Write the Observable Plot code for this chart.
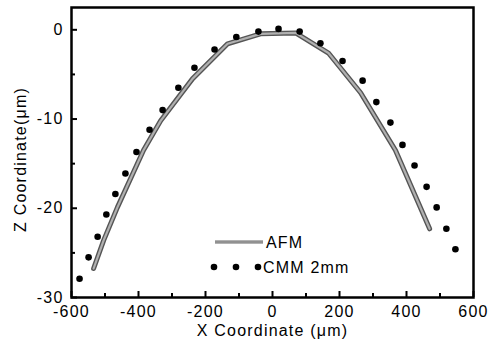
<!DOCTYPE html>
<html><head><meta charset="utf-8">
<script src="https://cdn.jsdelivr.net/npm/d3@7"></script>
<script src="https://cdn.jsdelivr.net/npm/@observablehq/plot@0.6"></script>
<style>
body{margin:0;background:#fff;}
#chart{position:relative;width:498px;height:343px;}
#legend{position:absolute;left:0;top:0;pointer-events:none;}
</style></head><body><div id="chart"></div>
<script>
// AFM profile (x in µm, z in µm)
const afmX = [-534, -504, -463, -385, -334, -239, -134, -36, 69, 167, 263, 367, 469];
const afmZ = [-26.75, -23.6, -19.9, -13.5, -10.2, -5.5, -1.57, -0.45, -0.35, -2.6, -7.05, -13.5, -22.3];
// CMM 2mm profile
const cmmX = [-576, -549, -522, -496, -469, -439, -406, -367, -328, -281, -233, -173, -108, -42, 18, 81, 143, 209, 269, 310, 352, 388, 424, 460, 490, 519, 546];
const cmmZ = [-27.9, -25.5, -23.2, -20.7, -18.4, -16.1, -13.7, -11.2, -9.0, -6.5, -4.25, -2.2, -0.8, -0.2, 0.1, -0.2, -1.5, -3.5, -5.7, -8.1, -10.4, -12.9, -15.2, -17.6, -19.9, -22.3, -24.6];
const seriesNames = ["AFM", "CMM 2mm"];
const xTicks = [-600, -400, -200, 0, 200, 400, 600];
const xMinor = [-500, -300, -100, 100, 300, 500];
const yTicks = [0, -10, -20, -30];
const yMinor = [-5, -15, -25];
const xLabel = "X Coordinate (μm)";
const yLabel = "Z Coordinate(μm)";

const afm = afmX.map((x, i) => ({x, z: afmZ[i]}));
const cmm = cmmX.map((x, i) => ({x, z: cmmZ[i]}));
const fmt = d => String(d);
const font = "'Liberation Sans', Arial, sans-serif";

const plot = Plot.plot({
  width: 498, height: 343,
  marginLeft: 71, marginRight: 25, marginTop: 7, marginBottom: 46,
  style: {fontFamily: font, fontSize: "16px", letterSpacing: "1.2px", color: "#000", background: "#fff"},
  x: {domain: [-600, 600]},
  y: {domain: [-30, 2.5]},
  marks: [
    Plot.axisX(xTicks, {tickSize: 0, tickPadding: 8, tickFormat: fmt, label: null, fontSize: 16}),
    Plot.axisX(xTicks, {tickSize: 6, text: null, label: null, strokeWidth: 2, dy: -6}),
    Plot.axisX(xMinor, {tickSize: 4, text: null, label: null, strokeWidth: 2, dy: -4}),
    Plot.axisY(yTicks, {tickSize: 0, tickPadding: 8, tickFormat: fmt, label: null, fontSize: 16}),
    Plot.axisY(yTicks, {tickSize: 6, text: null, label: null, strokeWidth: 2, dx: 6}),
    Plot.axisY(yMinor, {tickSize: 4, text: null, label: null, strokeWidth: 2, dx: 4}),
    Plot.line(afm, {x: "x", y: "z", stroke: "#555", strokeWidth: 5, strokeLinejoin: "round"}),
    Plot.line(afm, {x: "x", y: "z", stroke: "#b0b0b0", strokeWidth: 2.2, strokeLinejoin: "round"}),
    Plot.dot(cmm, {x: "x", y: "z", r: 3.3, fill: "#000", stroke: "none"}),
    Plot.frame({strokeWidth: 2.5}),
    Plot.text([xLabel], {frameAnchor: "bottom", textAnchor: "middle", dy: 33, lineAnchor: "middle", fontSize: 16}),
    Plot.text([yLabel], {frameAnchor: "left", textAnchor: "middle", dx: -51, dy: 7, rotate: -90, lineAnchor: "middle", fontSize: 16})
  ]
});
document.getElementById("chart").appendChild(plot);

// legend overlay
const svg = d3.select("#chart").append("svg").attr("id", "legend")
  .attr("width", 498).attr("height", 343);
const lg = svg.append("g").attr("font-family", font).attr("font-size", 16).attr("letter-spacing", "1.2px");
lg.append("line").attr("x1", 215).attr("x2", 263).attr("y1", 242).attr("y2", 242)
  .attr("stroke", "#666").attr("stroke-width", 3);
lg.append("line").attr("x1", 215).attr("x2", 263).attr("y1", 242).attr("y2", 242)
  .attr("stroke", "#bbb").attr("stroke-width", 1.2);
lg.append("text").attr("x", 266).attr("y", 242).attr("dy", "0.35em").text(seriesNames[0]);
[214, 236, 258].forEach(x => lg.append("circle").attr("cx", x).attr("cy", 267).attr("r", 3.3).attr("fill", "#000"));
lg.append("text").attr("x", 263).attr("y", 267).attr("dy", "0.35em").text(seriesNames[1]);
</script>
</body></html>
